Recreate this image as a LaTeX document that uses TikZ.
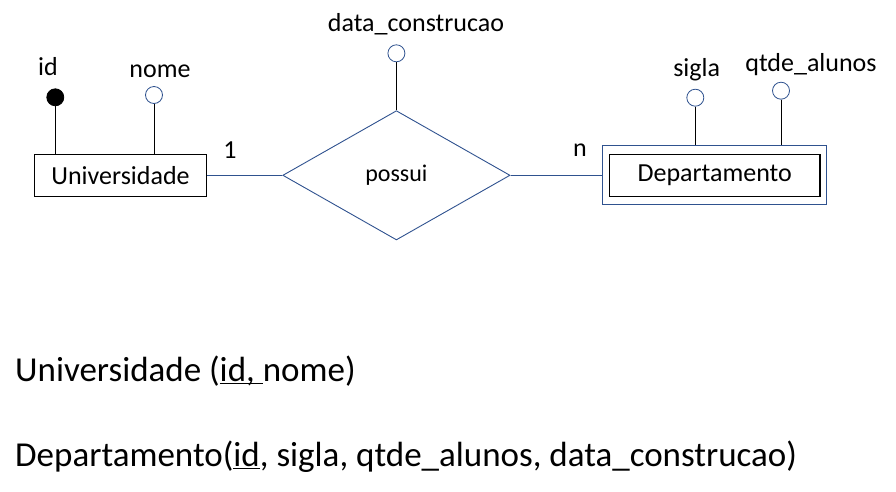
\documentclass[tikz,border=0pt]{standalone}
\usepackage{fontspec}
\setmainfont{Carlito}
\usetikzlibrary{shapes.geometric, positioning}
\definecolor{erblue}{RGB}{47,82,143}
\newcommand{\pk}[1]{\underline{\smash{#1}}}

\begin{document}
\begin{tikzpicture}[x=1pt, y=-1pt,
    entity/.style={draw, line width=1.2pt, minimum width=172pt, minimum height=41.7pt, inner sep=0pt, font=\fontsize{26}{30}\selectfont},
    weakbox/.style={draw=erblue, line width=1.2pt, minimum width=224pt, minimum height=59pt, inner sep=0pt},
    relation/.style={diamond, draw=erblue, line width=0.9pt, minimum width=227.3pt, minimum height=129.3pt, inner sep=0pt, font=\fontsize{24}{28}\selectfont},
    attr/.style={circle, draw=erblue, line width=0.8pt, fill=white, minimum size=17pt, inner sep=0pt},
    keyattr/.style={attr, draw=black, fill=black},
    lbl/.style={anchor=base, inner sep=0pt, font=\fontsize{26}{30}\selectfont},
    schema/.style={anchor=base west, inner sep=0pt, font=\fontsize{35}{42}\selectfont},
    link/.style={line width=1pt},
    conn/.style={draw=erblue, line width=0.9pt}]

    \useasboundingbox (0,0) rectangle (896,491);

    % Entities
    \node[entity] (univ) at (120.5,175.3) {Universidade};
    \node[weakbox] (deptout) at (714.7,175.3) {};
    \node[entity, minimum width=210.7pt] (dept) at (deptout) {Departamento};

    % Relationship
    \node[relation] (rel) at (396.4,175.3) {possui};

    % Attributes
    \node[keyattr] (idattr) at (55.3,97.3) {};
    \node[attr] (nomeattr) at (154,95) {};
    \node[attr] (dataattr) at (396.4,53.3) {};
    \node[attr] (siglaattr) at (695.3,97.7) {};
    \node[attr] (qtdeattr) at (781,90.7) {};

    % Labels
    \node[lbl] (idlbl) at (48,75) {id};
    \node[lbl] (nomelbl) at (160,77.3) {nome};
    \node[lbl] (datalbl) at (416,31.7) {data\_construcao};
    \node[lbl] (siglalbl) at (696.7,76.7) {sigla};
    \node[lbl] (qtdelbl) at (811,71.7) {qtde\_alunos};
    \node[lbl] (card1) at (230,158.3) {1};
    \node[lbl] (cardn) at (580,156.7) {n};

    % Links
    \draw[link] (idattr) -- (idattr |- univ.north);
    \draw[link] (nomeattr) -- (nomeattr |- univ.north);
    \draw[link] (dataattr) -- (rel.north);
    \draw[link] (siglaattr) -- (siglaattr |- deptout.north);
    \draw[link] (qtdeattr) -- (qtdeattr |- deptout.north);
    \draw[conn] (univ) -- (rel);
    \draw[conn] (rel) -- (deptout);

    % Schema
    \node[schema] (univrel) at (15,381.7) {Universidade (\pk{id,\ }nome)};
    \node[schema] (deptrel) at (15,466.7) {Departamento(\pk{id}, sigla, qtde\_alunos, data\_construcao)};

\end{tikzpicture}
\end{document}
